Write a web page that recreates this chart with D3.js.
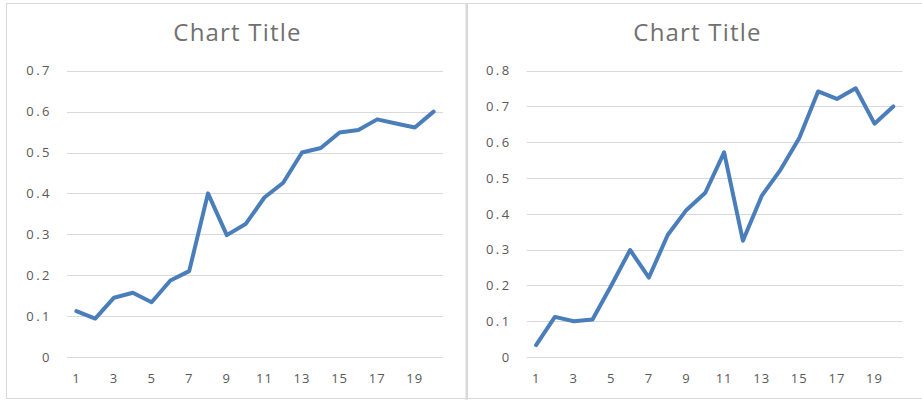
<!DOCTYPE html>
<html>
<head>
<meta charset="utf-8">
<script src="https://cdn.jsdelivr.net/npm/d3@7/dist/d3.min.js"></script>
<style>
  html, body { margin: 0; padding: 0; background: #fff; }
  svg { display: block; }
</style>
</head>
<body>
<svg id="chart" width="922" height="400"></svg>
<script>
// Categories 1..20 shared by both panels
const categories = d3.range(1, 21);
// Axis labels shown on the category axis (every other category)
const xTickLabels = [1, 3, 5, 7, 9, 11, 13, 15, 17, 19];

// Left panel series
const leftValues = [0.112, 0.094, 0.145, 0.157, 0.134, 0.187, 0.210, 0.400, 0.298, 0.325,
                    0.390, 0.426, 0.500, 0.511, 0.549, 0.555, 0.581, 0.571, 0.561, 0.600];
const leftTicks = [0, 0.1, 0.2, 0.3, 0.4, 0.5, 0.6, 0.7];

// Right panel series
const rightValues = [0.033, 0.112, 0.100, 0.105, 0.200, 0.299, 0.222, 0.341, 0.411, 0.459,
                     0.572, 0.325, 0.450, 0.523, 0.612, 0.742, 0.721, 0.751, 0.652, 0.700];
const rightTicks = [0, 0.1, 0.2, 0.3, 0.4, 0.5, 0.6, 0.7, 0.8];

const svg = d3.select("#chart");
const font = "'Open Sans', 'Liberation Sans', sans-serif";

// Panel frames
const frame = svg.append("g");
frame.append("rect").attr("x", 6.5).attr("y", 3.5).attr("width", 460).attr("height", 395)
  .attr("fill", "none").attr("stroke", "#d9d9d9").attr("stroke-width", 1);
frame.append("rect").attr("x", 467.5).attr("y", 3.5).attr("width", 460).attr("height", 395)
  .attr("fill", "none").attr("stroke", "#d9d9d9").attr("stroke-width", 1);
frame.append("line").attr("x1", 466.5).attr("x2", 466.5).attr("y1", 3).attr("y2", 400)
  .attr("stroke", "#d9d9d9").attr("stroke-width", 2);

function drawPanel(x0, values, ticks, yMax, titleX) {
  const g = svg.append("g");
  const plotLeft = x0, plotRight = x0 + 376;
  const plotTop = 70.7, plotBottom = 357;

  const x = d3.scaleBand().domain(categories).range([plotLeft, plotRight]);
  const y = d3.scaleLinear().domain([0, yMax]).range([plotBottom, plotTop]);

  // Horizontal gridlines
  g.append("g").selectAll("line").data(ticks).join("line")
    .attr("x1", plotLeft).attr("x2", plotRight)
    .attr("y1", d => Math.round(y(d)) + 0.5).attr("y2", d => Math.round(y(d)) + 0.5)
    .attr("stroke", "#d9d9d9").attr("stroke-width", 1);

  // Value axis labels
  const yAxis = d3.axisLeft(y).tickValues(ticks).tickSize(0).tickPadding(15)
    .tickFormat(d => d === 0 ? "0" : d3.format(".1f")(d));
  const ya = g.append("g").attr("transform", `translate(${plotLeft},0)`).call(yAxis);
  ya.select(".domain").remove();
  ya.selectAll("text").attr("fill", "#595959").attr("font-size", 13)
    .attr("letter-spacing", 2.5).attr("font-family", font);

  // Category axis labels
  const xAxis = d3.axisBottom(x).tickValues(xTickLabels).tickSize(0).tickPadding(17);
  const xa = g.append("g").attr("transform", `translate(0,${plotBottom})`).call(xAxis);
  xa.select(".domain").remove();
  xa.selectAll("text").attr("fill", "#595959").attr("font-size", 13)
    .attr("letter-spacing", 1).attr("font-family", font);

  // Series line
  const line = d3.line()
    .x((d, i) => x(categories[i]) + x.bandwidth() / 2)
    .y(d => y(d));
  g.append("path").datum(values)
    .attr("d", line)
    .attr("fill", "none")
    .attr("stroke", "#4a7ebb")
    .attr("stroke-width", 4)
    .attr("stroke-linejoin", "round")
    .attr("stroke-linecap", "round");

  // Title
  g.append("text").attr("x", titleX).attr("y", 41)
    .attr("text-anchor", "middle")
    .attr("font-family", font).attr("font-size", 24)
    .attr("letter-spacing", 1.2)
    .attr("fill", "#707070")
    .text("Chart Title");
}

drawPanel(67, leftValues, leftTicks, 0.7, 237.5);
drawPanel(526.7, rightValues, rightTicks, 0.8, 697.5);
</script>
</body>
</html>
